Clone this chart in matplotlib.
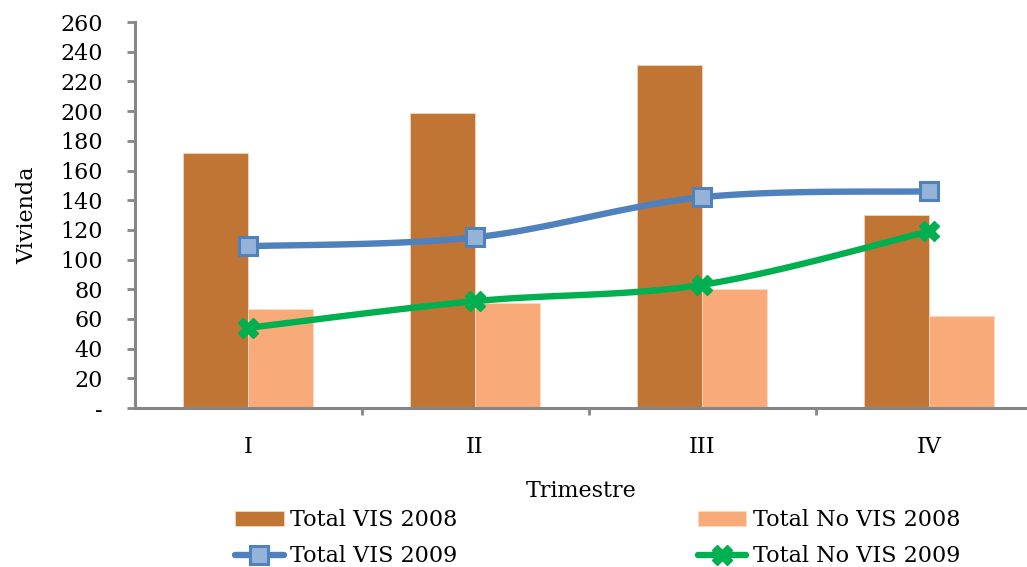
import numpy as np
import matplotlib
matplotlib.use("Agg")
import matplotlib.pyplot as plt

trimestres = ["I", "II", "III", "IV"]
total_vis_2008 = [172, 199, 231, 130]
total_no_vis_2008 = [67, 71, 80, 62]
total_vis_2009 = [109, 115, 142, 146]
total_no_vis_2009 = [54, 72, 83, 119]
yticks = list(range(0, 261, 20))
ylabels = ["-"] + [str(v) for v in yticks[1:]]

plt.rcParams["font.family"] = ["DejaVu Serif"]
FS = 16


def smooth(xs, ys, n=40):
    # Catmull-Rom style smoothing, like Excel's "smoothed line"
    xs = np.asarray(xs, float)
    ys = np.asarray(ys, float)
    px = np.concatenate([[xs[0]], xs, [xs[-1]]])
    py = np.concatenate([[ys[0]], ys, [ys[-1]]])
    outx, outy = [], []
    for i in range(1, len(px) - 2):
        p0 = np.array([px[i], py[i]])
        p3 = np.array([px[i + 1], py[i + 1]])
        c1 = p0 + (p3 - np.array([px[i - 1], py[i - 1]])) / 6
        c2 = p3 - (np.array([px[i + 2], py[i + 2]]) - p0) / 6
        t = np.linspace(0, 1, n)[:, None]
        b = ((1 - t) ** 3) * p0 + 3 * ((1 - t) ** 2) * t * c1 + 3 * (1 - t) * t ** 2 * c2 + t ** 3 * p3
        outx.extend(b[:, 0])
        outy.extend(b[:, 1])
    return outx, outy


fig = plt.figure(figsize=(10.27, 5.67), dpi=100)
ax = fig.add_axes([0.131, 0.2804, 0.869, 0.961 - 0.2804])

x = np.arange(len(trimestres))
w = 0.286
ax.bar(x - w / 2, total_vis_2008, w, color="#C07535", edgecolor="#F2D5BF", linewidth=0.6,
       label="Total VIS 2008", zorder=2)
ax.bar(x + w / 2, total_no_vis_2008, w, color="#F8AB78", edgecolor="#FBD9C2", linewidth=0.6,
       label="Total No VIS 2008", zorder=2)

LW = 4.6
sx, sy = smooth(x, total_vis_2009)
ax.plot(sx, sy, color="#4F81BD", lw=LW, zorder=3, solid_capstyle="round")
ax.plot(x, total_vis_2009, ls="none", marker="s", ms=12.5, mfc="#95B3D7", mec="#4F81BD", mew=2.2, zorder=4)
sx, sy = smooth(x, total_no_vis_2009)
ax.plot(sx, sy, color="#00B050", lw=LW, zorder=3, solid_capstyle="round")
ax.plot(x, total_no_vis_2009, ls="none", marker="X", ms=15, mfc="#00B050", mec="#00B050", zorder=4)

# legend proxies
h_vis09, = ax.plot([], [], color="#4F81BD", lw=LW, marker="s", ms=12.5, mfc="#95B3D7", mec="#4F81BD",
                   mew=2.2, label="Total VIS 2009", solid_capstyle="round")
h_novis09, = ax.plot([], [], color="#00B050", lw=LW, marker="X", ms=15, mfc="#00B050", mec="#00B050",
                     label="Total No VIS 2009", solid_capstyle="round")

ax.set_ylim(0, 260)
ax.set_xlim(-0.5, (1027 - 134.5) / 227 - 0.5)
ax.set_yticks(yticks)
ax.set_yticklabels(ylabels, fontsize=FS)
ax.set_xticks(x)
ax.set_xticklabels(trimestres, fontsize=FS)
ax.set_xticks(np.arange(0.5, 3.5, 1), minor=True)
ax.tick_params(axis="x", which="major", length=0, pad=20)
ax.tick_params(axis="x", which="minor", length=5, width=2, color="#868686")
ax.tick_params(axis="y", length=6, width=2, color="#868686", pad=17)

for s in ["top", "right"]:
    ax.spines[s].set_visible(False)
for s in ["left", "bottom"]:
    ax.spines[s].set_color("#868686")
    ax.spines[s].set_linewidth(2.2)

ax.set_ylabel("Vivienda", fontsize=FS, labelpad=15.5)
ax.set_xlabel("Trimestre", fontsize=FS, labelpad=16)

handles, labels = ax.get_legend_handles_labels()
order = ["Total VIS 2008", "Total VIS 2009", "Total No VIS 2008", "Total No VIS 2009"]
hmap = dict(zip(labels, handles))
fig.legend([hmap[k] for k in order], order, ncol=2, loc="lower left",
           bbox_to_anchor=(0.209, -0.036), frameon=False, fontsize=FS,
           handlelength=2.2, handletextpad=0.3, columnspacing=10.8, labelspacing=0.63,
           numpoints=1)

fig.savefig("out.png", dpi=100)
